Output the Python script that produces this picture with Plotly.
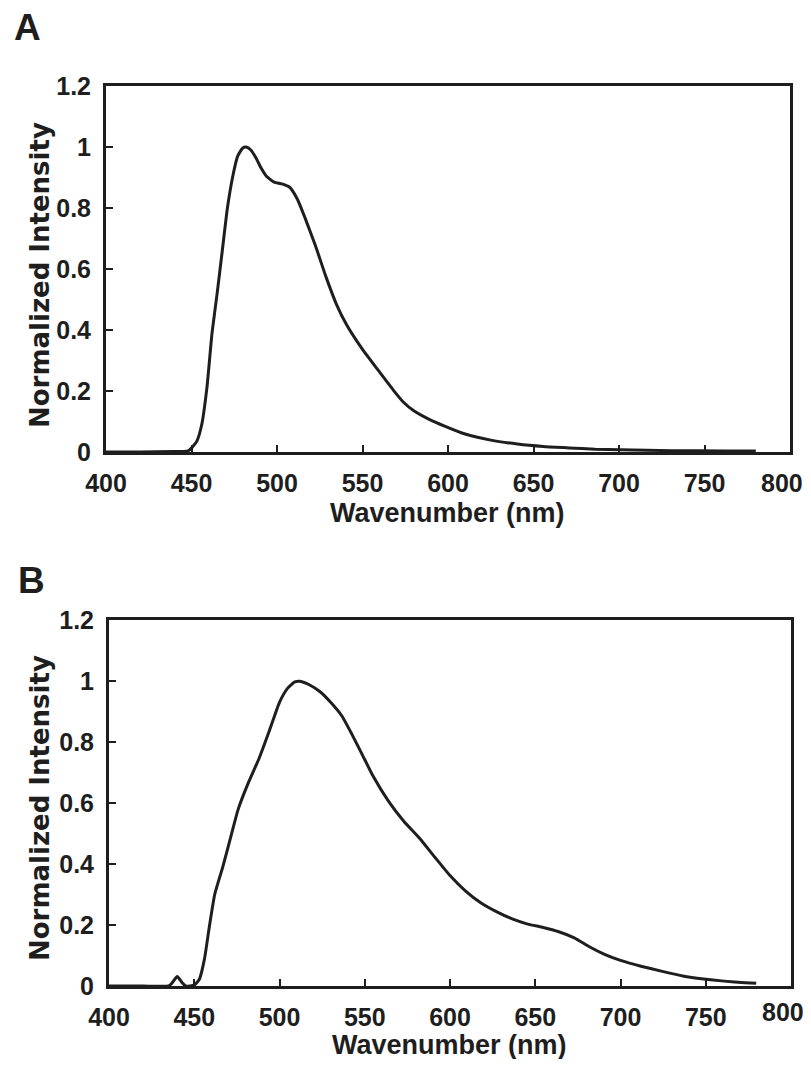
import plotly.graph_objects as go

# Panel A spectrum
wl_a = [400, 420, 440, 445, 448.4, 453, 456, 459, 462, 465, 468, 471, 474, 477, 480, 482,
        484.7, 487.8, 490.8, 493.8, 498.3, 502.9, 507.4, 512, 516.5, 522.5, 528.6, 534.7,
        540.7, 549.8, 558.9, 568, 574, 580, 589, 598, 610, 625, 640.6, 655.7, 670.8, 686,
        701, 731, 761.6, 780]
int_a = [0, 0, 0.002, 0.002, 0.005, 0.034, 0.09, 0.21, 0.39, 0.52, 0.66, 0.80, 0.90, 0.97,
         0.997, 1.0, 0.99, 0.963, 0.93, 0.904, 0.885, 0.879, 0.868, 0.828, 0.766, 0.676,
         0.575, 0.485, 0.417, 0.338, 0.27, 0.203, 0.163, 0.135, 0.107, 0.085, 0.059, 0.039,
         0.026, 0.018, 0.0135, 0.009, 0.007, 0.0045, 0.0034, 0.003]

# Panel B spectrum
wl_b = [400, 420, 435, 437, 440, 443, 445, 450, 453, 456, 459, 462, 466.7, 471, 475.8, 482,
        488, 494, 500, 504.6, 509, 512, 518, 524, 530, 536.5, 542.5, 548.6, 554.7, 563.8,
        572.9, 582, 591, 600, 609, 618, 627.5, 636.5, 645.6, 654.7, 663.8, 672.9, 682, 691,
        700, 712, 724.5, 736.5, 748.7, 760.8, 773, 779.6]
int_b = [0, 0, 0, 0.01, 0.031, 0.01, 0, 0.003, 0.022, 0.089, 0.2, 0.30, 0.39, 0.48, 0.58,
         0.67, 0.746, 0.836, 0.93, 0.975, 0.997, 0.999, 0.986, 0.964, 0.93, 0.886, 0.825,
         0.758, 0.69, 0.607, 0.54, 0.485, 0.423, 0.362, 0.312, 0.273, 0.243, 0.22, 0.203,
         0.192, 0.178, 0.158, 0.128, 0.103, 0.084, 0.065, 0.048, 0.033, 0.023, 0.016,
         0.011, 0.009]

x_ticks = [400, 450, 500, 550, 600, 650, 700, 750, 800]
x_tick_text = ["400", "450", "500", "550", "600", "650", "700", "750", ""]
last_x_label = "800"
y_ticks = [0, 0.2, 0.4, 0.6, 0.8, 1, 1.2]
y_tick_text = ["0", "0.2", "0.4", "0.6", "0.8", "1", "1.2"]
x_title = "Wavenumber (nm)"
y_title = "Normalized Intensity"
panel_labels = ["A", "B"]

OFF = 8  # page body margin
W, H = 811 - OFF, 1073 - 2 * OFF - 6
INK = "#1e1e1e"
SANS = "Liberation Sans, Arial, sans-serif"
WIDE = "DejaVu Sans, Verdana, sans-serif"

fig = go.Figure()
fig.add_trace(go.Scatter(x=wl_a, y=int_a, mode="lines", line=dict(color=INK, width=3, shape="spline", smoothing=0.5),
                         xaxis="x", yaxis="y", showlegend=False))
fig.add_trace(go.Scatter(x=wl_b, y=int_b, mode="lines", line=dict(color=INK, width=3, shape="spline", smoothing=0.5),
                         xaxis="x2", yaxis="y2", showlegend=False))

def px_x(p):
    return (p - OFF) / W

def px_y(p):
    return 1 - (p - OFF) / H

panels = [
    dict(x0=106, x1=790, y0=86, y1=452),
    dict(x0=109, x1=791, y0=620, y1=986),
]

tickfont = dict(family=SANS, size=25, color=INK, weight="bold")
common_x = dict(range=[400, 800], tickvals=x_ticks, ticktext=x_tick_text, ticks="inside", ticklen=7,
                tickwidth=2, tickcolor=INK, showline=True, linewidth=3, linecolor=INK, mirror=True,
                showgrid=False, zeroline=False, tickfont=tickfont, ticklabelstandoff=7,
                automargin=False, ticklabeloverflow="allow")
common_y = dict(range=[0, 1.2], tickvals=y_ticks, ticktext=y_tick_text, ticks="inside", ticklen=7,
                tickwidth=2, tickcolor=INK, showline=True, linewidth=3, linecolor=INK, mirror=True,
                showgrid=False, zeroline=False, tickfont=tickfont, ticklabelstandoff=7,
                automargin=False, ticklabeloverflow="allow")

fig.update_layout(
    template="none",
    width=W, height=H, margin=dict(l=0, r=0, t=0, b=0, pad=0),
    paper_bgcolor="white", plot_bgcolor="white",
    xaxis=dict(domain=[px_x(panels[0]["x0"]), px_x(panels[0]["x1"])], anchor="y", **common_x),
    yaxis=dict(domain=[px_y(panels[0]["y1"]), px_y(panels[0]["y0"])], anchor="x", **common_y),
    xaxis2=dict(domain=[px_x(panels[1]["x0"]), px_x(panels[1]["x1"])], anchor="y2", **common_x),
    yaxis2=dict(domain=[px_y(panels[1]["y1"]), px_y(panels[1]["y0"])], anchor="x2", **common_y),
)

annotations = []
title_pos = [
    dict(xt=447, yt=513, yx=40, yy=275, lx=27, ly=28, xr="x", yr="y", shift=-16),
    dict(xt=449, yt=1045, yx=40, yy=808, lx=31, ly=580, xr="x2", yr="y2", shift=-11),
]
for lab, tp in zip(panel_labels, title_pos):
    annotations.append(dict(text=x_title, x=px_x(tp["xt"]), y=px_y(tp["yt"]), xref="paper", yref="paper",
                            showarrow=False, xanchor="center", yanchor="middle",
                            font=dict(family=SANS, size=27, color=INK, weight="bold")))
    annotations.append(dict(text=y_title, x=px_x(tp["yx"]), y=px_y(tp["yy"]), xref="paper", yref="paper",
                            showarrow=False, xanchor="center", yanchor="middle", textangle=-90,
                            font=dict(family=WIDE, size=26, color=INK, weight="bold")))
    annotations.append(dict(text=lab, x=px_x(tp["lx"]), y=px_y(tp["ly"]), xref="paper", yref="paper",
                            showarrow=False, xanchor="center", yanchor="middle",
                            font=dict(family=SANS, size=37, color=INK, weight="bold")))
    # last x tick label, kept inside the visible page
    annotations.append(dict(text=last_x_label, x=x_ticks[-1], y=y_ticks[0], xref=tp["xr"], yref=tp["yr"],
                            showarrow=False, xanchor="right", yanchor="top", xshift=14, yshift=tp["shift"],
                            borderpad=0, font=tickfont))
fig.update_layout(annotations=annotations)

fig.write_html("out.html")
